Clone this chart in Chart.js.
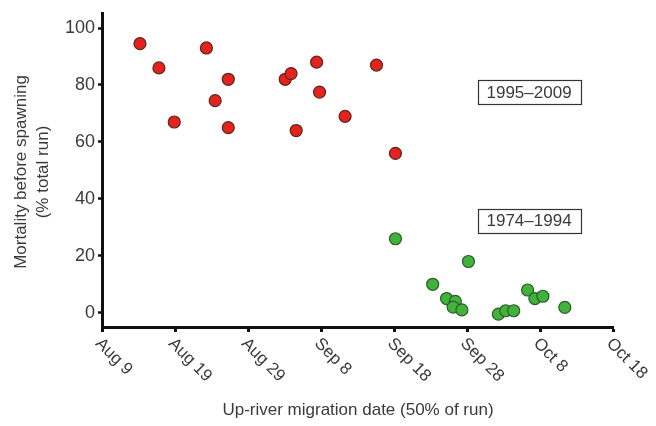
<!DOCTYPE html>
<html>
<head>
<meta charset="utf-8">
<title>Pre-spawning mortality vs migration date</title>
<script src="https://cdn.jsdelivr.net/npm/chart.js@4.4.1/dist/chart.umd.min.js"></script>
<style>
  html, body { margin: 0; padding: 0; background: #fff; }
  #wrap { width: 656px; height: 426px; }
</style>
</head>
<body>
<div id="wrap"><canvas id="chart" width="656" height="426"></canvas></div>
<script>
// x values are days after Aug 9, y values are % of the run dying before spawning
const recentDays = [5.2, 7.8, 9.9, 14.3, 15.5, 17.3, 17.3, 25.1, 25.9, 26.6, 29.4, 29.8, 33.3, 37.6, 40.2];
const recentMortality = [94.5, 86, 67, 93, 74.5, 82, 65, 82, 84, 64, 88, 77.5, 69, 87, 56];

const earlyDays = [40.2, 45.3, 50.2, 47.2, 48.4, 48.1, 49.3, 54.3, 55.3, 56.4, 58.3, 59.3, 60.4, 63.4];
const earlyMortality = [26, 10, 18, 5, 4, 2, 1, -0.5, 0.7, 0.7, 8, 5, 5.8, 1.9];

const seriesNames = ['1995–2009', '1974–1994'];

const xTickValues = [0, 10, 20, 30, 40, 50, 60, 70];
const xTickLabels = ['Aug 9', 'Aug 19', 'Aug 29', 'Sep 8', 'Sep 18', 'Sep 28', 'Oct 8', 'Oct 18'];
const yTickValues = [0, 20, 40, 60, 80, 100];

const FONT = '"Liberation Sans", Arial, sans-serif';
const TEXT = '#3a3a3a';

function toPoints(xs, ys) {
    return xs.map((x, i) => ({ x: x, y: ys[i] }));
}

// rotated date labels, axis titles and the two period boxes
const annotations = {
    id: 'annotations',
    afterDraw(chart) {
        const ctx = chart.ctx;
        const xs = chart.scales.x;
        const ys = chart.scales.y;

        ctx.save();
        ctx.fillStyle = TEXT;
        ctx.font = '17px ' + FONT;

        // date ticks, slanted down to the right
        xTickValues.forEach((v, i) => {
            const px = xs.getPixelForValue(v);
            ctx.save();
            ctx.translate(px - 4, xs.top + 14);
            ctx.rotate(Math.PI / 4);
            ctx.textAlign = 'left';
            ctx.textBaseline = 'middle';
            ctx.fillText(xTickLabels[i], 0, 0);
            ctx.restore();
        });

        // x title
        ctx.textAlign = 'center';
        ctx.textBaseline = 'middle';
        ctx.fillText('Up-river migration date (50% of run)', 358, 410);

        // y title, two lines
        ctx.save();
        ctx.translate(21, 172);
        ctx.rotate(-Math.PI / 2);
        ctx.fillText('Mortality before spawning', 0, 0);
        ctx.fillText('(% total run)', 0, 22);
        ctx.restore();

        // period labels
        const boxes = [
            { text: seriesNames[0], x: 58.5, y: 77.4 },
            { text: seriesNames[1], x: 58.5, y: 32.3 }
        ];
        boxes.forEach(b => {
            const cx = xs.getPixelForValue(b.x);
            const cy = ys.getPixelForValue(b.y);
            const w = 103, h = 24;
            ctx.fillStyle = '#fff';
            ctx.fillRect(cx - w / 2, cy - h / 2, w, h);
            ctx.strokeStyle = '#333';
            ctx.lineWidth = 1.2;
            ctx.strokeRect(Math.round(cx - w / 2) + 0.5, Math.round(cy - h / 2) + 0.5, w, h);
            ctx.fillStyle = TEXT;
            ctx.fillText(b.text, cx, cy + 1);
        });

        ctx.restore();
    }
};

new Chart(document.getElementById('chart'), {
    type: 'scatter',
    data: {
        datasets: [
            {
                label: seriesNames[0],
                data: toPoints(recentDays, recentMortality),
                backgroundColor: '#e5231d',
                borderColor: '#5b2622',
                borderWidth: 1.2,
                pointRadius: 6,
                pointHoverRadius: 6
            },
            {
                label: seriesNames[1],
                data: toPoints(earlyDays, earlyMortality),
                backgroundColor: '#41b33b',
                borderColor: '#2f5a2b',
                borderWidth: 1.2,
                pointRadius: 6,
                pointHoverRadius: 6
            }
        ]
    },
    options: {
        responsive: false,
        animation: false,
        layout: { padding: { top: 10, right: 43, left: 0, bottom: 0 } },
        plugins: {
            legend: { display: false },
            tooltip: { enabled: false }
        },
        scales: {
            x: {
                type: 'linear',
                min: 0,
                max: 70,
                afterBuildTicks: scale => { scale.ticks = xTickValues.map(v => ({ value: v })); },
                afterFit: scale => { scale.height = 99; },
                ticks: { display: false },
                grid: { drawOnChartArea: false, drawTicks: true, tickLength: 5, tickWidth: 3, tickColor: '#111' },
                border: { display: true, width: 3, color: '#111' }
            },
            y: {
                min: -5,
                max: 105,
                afterBuildTicks: scale => { scale.ticks = yTickValues.map(v => ({ value: v })); },
                afterFit: scale => { scale.width = 102; },
                ticks: { color: TEXT, font: { family: FONT, size: 18 }, padding: 3 },
                grid: { drawOnChartArea: false, drawTicks: true, tickLength: 4, tickWidth: 2.5, tickColor: '#111' },
                border: { display: true, width: 3, color: '#111' }
            }
        }
    },
    plugins: [annotations]
});
</script>
</body>
</html>
